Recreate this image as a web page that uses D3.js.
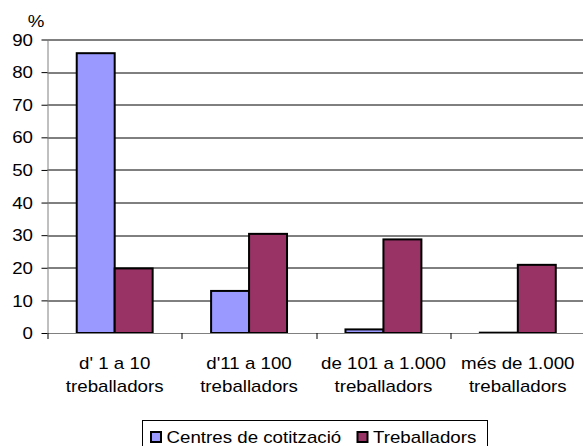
<!DOCTYPE html>
<html>
<head>
<meta charset="utf-8">
<script src="https://d3js.org/d3.v7.min.js"></script>
<style>
    body { margin: 0; background: #fff; }
    text { font-family: "Liberation Sans", Arial, sans-serif; fill: #000; font-size: 16px; }
</style>
</head>
<body>
<div id="chart"></div>
<script>
    // data
    var categories = [["d' 1 a 10", "treballadors"], ["d'11 a 100", "treballadors"],
                      ["de 101 a 1.000", "treballadors"], ["més de 1.000", "treballadors"]];
    var seriesNames = ["Centres de cotització", "Treballadors"];
    var centres = [85.8, 12.9, 1.1, 0.1];
    var treballadors = [19.8, 30.4, 28.7, 20.9];
    var yTicks = [0, 10, 20, 30, 40, 50, 60, 70, 80, 90];
    var colors = ["#9999ff", "#993366"];

    var W = 583, H = 446;
    var SX = 1.17; // the original text is a bit wider than it is tall
    var margin = { top: 39.5, right: -2, bottom: 113, left: 47.5 };
    var width = W - margin.left - margin.right,
        height = H - margin.top - margin.bottom;

    // widen text horizontally around its own anchor
    function stretch(sel) {
        sel.each(function () {
            var t = d3.select(this);
            var x = +(t.attr("x") || 0);
            t.attr("x", x / SX).attr("transform", "scale(" + SX + ",1)");
            t.selectAll("tspan").attr("x", x / SX);
        });
    }

    var svg = d3.select("#chart").append("svg")
        .attr("width", W).attr("height", H);
    var g = svg.append("g")
        .attr("transform", "translate(" + margin.left + "," + margin.top + ")");

    var x = d3.scaleBand().domain(d3.range(categories.length)).range([0, width]);
    var x1 = d3.scaleBand().domain([0, 1]).range([0, x.bandwidth()])
        .paddingInner(0).paddingOuter(0.77);
    var y = d3.scaleLinear().domain([0, 90]).range([height, 0]);

    // gridlines
    g.selectAll(".grid").data(yTicks.slice(1)).enter().append("line")
        .attr("x1", 0).attr("x2", width)
        .attr("y1", function (d) { return Math.round(y(d)) + 0.5; })
        .attr("y2", function (d) { return Math.round(y(d)) + 0.5; })
        .attr("stroke", "#000").attr("stroke-width", 1);

    // y axis
    var yAxis = g.append("g")
        .call(d3.axisLeft(y).tickValues(yTicks).tickSize(6).tickPadding(8.5));
    yAxis.select(".domain").attr("stroke", "#808080").attr("d", "M0.5," + height + "V0");
    yAxis.selectAll(".tick line").attr("stroke", "#000");
    yAxis.selectAll("text").attr("font-size", null).attr("dy", "0.35em");
    stretch(yAxis.selectAll("text"));

    // bars
    var groups = g.selectAll(".grp").data(categories).enter().append("g")
        .attr("transform", function (d, i) { return "translate(" + x(i) + ",0)"; });
    groups.each(function (d, i) {
        var vals = [centres[i], treballadors[i]];
        d3.select(this).selectAll("rect").data(vals).enter().append("rect")
            .attr("x", function (v, k) { return x1(k); })
            .attr("width", x1.bandwidth())
            .attr("y", function (v) { return y(v); })
            .attr("height", function (v) { return height - y(v); })
            .attr("fill", function (v, k) { return colors[k]; })
            .attr("stroke", "#000").attr("stroke-width", 2);
    });

    // x axis
    var xAxisG = g.append("g").attr("transform", "translate(0," + height + ")");
    xAxisG.append("line").attr("x1", 0).attr("x2", width)
        .attr("y1", 0.5).attr("y2", 0.5).attr("stroke", "#808080");
    xAxisG.selectAll(".xt").data(d3.range(categories.length + 1)).enter().append("line")
        .attr("x1", function (i) { return Math.round(i * x.step()) + 0.5; })
        .attr("x2", function (i) { return Math.round(i * x.step()) + 0.5; })
        .attr("y1", 0).attr("y2", 6).attr("stroke", "#000");
    var labels = xAxisG.selectAll(".xl").data(categories).enter().append("text")
        .attr("x", function (d, i) { return x(i) + x.bandwidth() / 2; })
        .attr("y", 36)
        .attr("text-anchor", "middle");
    labels.selectAll("tspan").data(function (d) { return d; }).enter().append("tspan")
        .attr("dy", function (d, k) { return k === 0 ? 0 : 22.7; })
        .text(function (d) { return d; });
    stretch(labels);

    // % label
    stretch(svg.append("text").attr("x", 36).attr("y", 26.7).attr("text-anchor", "middle")
        .text("%"));

    // legend
    var leg = svg.append("g");
    leg.append("rect").attr("x", 142.5).attr("y", 420.5).attr("width", 345).attr("height", 40)
        .attr("fill", "#fff").attr("stroke", "#000");
    var items = leg.selectAll(".li").data(seriesNames).enter().append("g");
    var itemX = [151, 357.5];
    items.append("rect")
        .attr("x", function (d, i) { return itemX[i]; })
        .attr("y", 432).attr("width", 10).attr("height", 10)
        .attr("fill", function (d, i) { return colors[i]; })
        .attr("stroke", "#000").attr("stroke-width", 2);
    var legText = items.append("text")
        .attr("x", function (d, i) { return itemX[i] + 15.5; })
        .attr("y", 442.7)
        .text(function (d) { return d; });
    stretch(legText);
</script>
</body>
</html>
